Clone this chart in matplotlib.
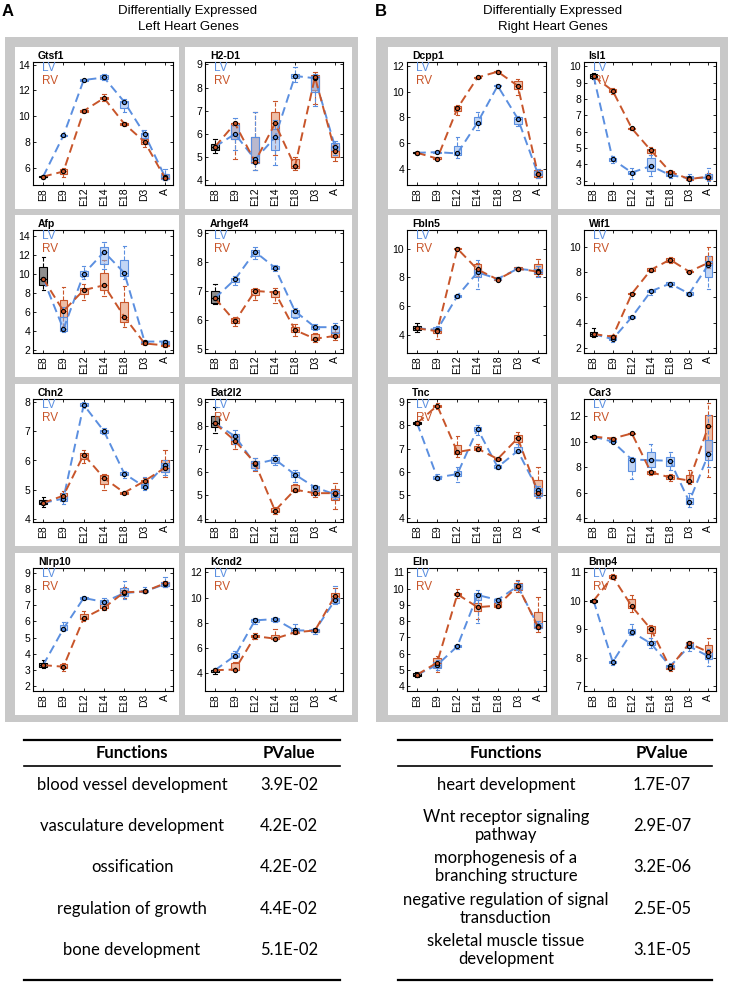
import matplotlib
matplotlib.use('Agg')
import matplotlib.pyplot as plt
from matplotlib.colors import to_rgba
import numpy as np

plt.rcParams['font.family'] = ['Liberation Sans', 'DejaVu Sans']

stages = ['E8', 'E9', 'E12', 'E14', 'E18', 'D3', 'A']

# rows: median, q1, q3, whisker low, whisker high  (E8 is shared by LV and RV)
gtsf1_lv = [[5.3, 8.5, 12.8, 13.0, 11.1, 8.6, 5.3],
            [5.25, 8.45, 12.75, 12.85, 10.6, 8.3, 5.1],
            [5.35, 8.55, 12.85, 13.2, 11.2, 8.7, 5.5],
            [5.2, 8.4, 12.7, 12.8, 10.3, 8.0, 5.0],
            [5.4, 8.6, 12.9, 13.3, 11.3, 8.9, 5.9]]
gtsf1_rv = [[5.3, 5.7, 10.4, 11.4, 9.4, 8.0, 5.2],
            [5.25, 5.5, 10.35, 11.3, 9.3, 7.8, 5.1],
            [5.35, 5.9, 10.5, 11.5, 9.5, 8.2, 5.4],
            [5.2, 5.3, 10.3, 11.2, 9.2, 7.6, 5.0],
            [5.4, 6.0, 10.55, 11.7, 9.55, 8.3, 5.5]]

h2d1_lv = [[5.45, 6.0, 4.9, 5.85, 8.5, 8.4, 5.45],
           [5.3, 5.8, 4.75, 5.3, 8.4, 7.8, 5.3],
           [5.55, 6.4, 5.85, 6.2, 8.6, 8.5, 5.6],
           [5.2, 5.3, 4.45, 4.65, 8.25, 7.2, 5.1],
           [5.8, 6.7, 6.95, 6.6, 8.9, 8.6, 5.7]]
h2d1_rv = [[5.45, 6.45, 4.8, 6.45, 4.6, 8.45, 5.25],
           [5.3, 5.8, 4.75, 5.8, 4.55, 7.9, 5.0],
           [5.55, 6.45, 5.85, 6.95, 4.9, 8.55, 5.5],
           [5.2, 4.9, 4.45, 5.1, 4.45, 7.3, 4.85],
           [5.8, 6.5, 6.95, 7.4, 5.0, 8.65, 5.55]]

afp_lv = [[9.5, 4.2, 10.0, 12.3, 10.1, 2.9, 2.9],
          [8.8, 4.0, 9.8, 11.0, 9.8, 2.7, 2.6],
          [10.7, 5.5, 10.3, 12.8, 11.5, 3.0, 3.0],
          [8.3, 3.9, 9.5, 10.5, 9.5, 2.6, 2.5],
          [11.8, 6.5, 10.8, 13.3, 12.9, 3.1, 3.1]]
afp_rv = [[9.5, 6.1, 8.3, 8.8, 5.5, 2.7, 2.5],
          [8.8, 5.5, 7.9, 8.3, 5.0, 2.6, 2.4],
          [10.7, 7.3, 8.5, 10.1, 7.1, 2.9, 2.7],
          [8.3, 4.5, 7.3, 7.7, 4.4, 2.5, 2.3],
          [11.8, 8.6, 8.9, 11.5, 8.7, 3.0, 2.8]]

arhgef4_lv = [[6.75, 7.4, 8.35, 7.8, 6.3, 5.75, 5.75],
              [6.6, 7.3, 8.2, 7.75, 6.1, 5.7, 5.55],
              [7.0, 7.45, 8.4, 7.85, 6.35, 5.8, 5.8],
              [6.55, 7.2, 8.1, 7.7, 6.05, 5.65, 5.4],
              [7.25, 7.5, 8.5, 7.9, 6.4, 5.85, 5.9]]
arhgef4_rv = [[6.75, 5.95, 7.0, 6.95, 5.65, 5.35, 5.45],
              [6.6, 5.9, 6.85, 6.8, 5.6, 5.3, 5.4],
              [7.0, 6.05, 7.05, 7.0, 5.75, 5.5, 5.6],
              [6.55, 5.8, 6.7, 6.6, 5.45, 5.25, 5.3],
              [7.25, 6.1, 7.1, 7.1, 5.85, 5.55, 5.7]]

chn2_lv = [[4.55, 4.7, 7.9, 7.0, 5.55, 5.1, 5.85],
           [4.5, 4.6, 7.85, 6.95, 5.5, 5.05, 5.6],
           [4.65, 4.8, 7.95, 7.05, 5.6, 5.2, 5.9],
           [4.4, 4.5, 7.8, 6.9, 5.4, 5.0, 5.5],
           [4.75, 4.9, 8.0, 7.1, 5.65, 5.45, 6.0]]
chn2_rv = [[4.55, 4.8, 6.2, 5.4, 4.9, 5.3, 5.75],
           [4.5, 4.7, 6.05, 5.2, 4.87, 5.2, 5.6],
           [4.65, 4.9, 6.25, 5.5, 4.93, 5.35, 6.0],
           [4.4, 4.6, 5.9, 5.0, 4.85, 5.15, 5.45],
           [4.75, 4.95, 6.35, 5.55, 4.95, 5.4, 6.35]]

bat2l2_lv = [[8.1, 7.55, 6.35, 6.55, 5.9, 5.35, 5.05],
             [7.95, 7.4, 6.2, 6.4, 5.8, 5.2, 4.95],
             [8.4, 7.65, 6.5, 6.65, 6.0, 5.4, 5.2],
             [7.7, 7.2, 6.1, 6.3, 5.6, 5.0, 4.85],
             [8.8, 7.8, 6.6, 6.75, 6.1, 5.45, 5.25]]
bat2l2_rv = [[8.1, 7.35, 6.4, 4.35, 5.25, 5.1, 5.1],
             [7.95, 7.2, 6.2, 4.3, 5.2, 5.0, 4.8],
             [8.4, 7.5, 6.5, 4.45, 5.45, 5.25, 5.3],
             [7.7, 7.0, 6.05, 4.2, 5.15, 4.95, 4.4],
             [8.8, 7.65, 6.6, 4.5, 5.5, 5.3, 5.55]]

nlrp10_lv = [[3.3, 5.55, 7.45, 7.2, 7.75, 7.85, 8.3],
             [3.2, 5.5, 7.4, 7.05, 7.6, 7.8, 8.2],
             [3.45, 5.75, 7.5, 7.3, 8.05, 7.95, 8.45],
             [3.15, 5.4, 7.35, 6.95, 7.4, 7.75, 8.1],
             [3.6, 5.95, 7.55, 7.45, 8.5, 8.1, 8.75]]
nlrp10_rv = [[3.3, 3.2, 6.2, 6.85, 7.8, 7.85, 8.35],
             [3.2, 3.1, 6.15, 6.8, 7.6, 7.8, 8.2],
             [3.45, 3.35, 6.45, 7.05, 7.95, 7.9, 8.45],
             [3.15, 2.95, 6.05, 6.7, 7.45, 7.75, 8.1],
             [3.6, 3.4, 6.65, 7.15, 8.1, 7.95, 8.5]]

kcnd2_lv = [[4.25, 5.4, 8.2, 8.3, 7.4, 7.4, 9.8],
            [4.1, 5.3, 8.05, 8.15, 7.3, 7.3, 9.6],
            [4.3, 5.6, 8.3, 8.4, 7.6, 7.5, 10.0],
            [3.95, 5.2, 7.9, 8.1, 7.2, 7.1, 9.5],
            [4.35, 5.8, 8.35, 8.5, 7.9, 7.6, 10.95]]
kcnd2_rv = [[4.25, 4.3, 6.95, 6.75, 7.25, 7.4, 10.15],
            [4.1, 4.3, 6.85, 6.7, 7.2, 7.3, 9.9],
            [4.3, 4.8, 7.05, 7.05, 7.3, 7.45, 10.4],
            [3.95, 4.25, 6.75, 6.65, 7.15, 7.25, 9.6],
            [4.35, 4.9, 7.2, 7.5, 7.35, 7.5, 10.8]]

dcpp1_lv = [[5.25, 5.3, 5.2, 7.6, 10.45, 7.9, 3.6],
            [5.2, 5.25, 5.1, 7.5, 10.4, 7.5, 3.5],
            [5.3, 5.35, 5.8, 8.0, 10.5, 8.0, 3.8],
            [5.15, 5.2, 4.85, 7.0, 10.3, 7.3, 3.3],
            [5.35, 5.4, 6.5, 8.4, 10.6, 8.1, 4.0]]
dcpp1_rv = [[5.25, 4.8, 8.7, 11.1, 11.55, 10.45, 3.6],
            [5.2, 4.75, 8.5, 11.05, 11.5, 10.2, 3.4],
            [5.3, 4.9, 8.9, 11.15, 11.6, 10.8, 3.9],
            [5.15, 4.7, 8.2, 11.0, 11.45, 9.7, 3.3],
            [5.35, 4.95, 9.0, 11.2, 11.65, 11.0, 4.0]]

isl1_lv = [[9.4, 4.3, 3.5, 3.9, 3.35, 3.15, 3.2],
           [9.3, 4.2, 3.4, 3.6, 3.3, 3.1, 3.1],
           [9.5, 4.4, 3.6, 4.4, 3.5, 3.3, 3.4],
           [9.2, 4.1, 3.1, 3.3, 3.15, 3.0, 3.0],
           [9.6, 4.5, 3.8, 4.6, 3.6, 3.4, 3.8]]
isl1_rv = [[9.4, 8.5, 6.2, 4.85, 3.55, 3.1, 3.25],
           [9.3, 8.4, 6.15, 4.7, 3.5, 3.05, 3.15],
           [9.5, 8.6, 6.25, 4.95, 3.6, 3.2, 3.4],
           [9.2, 8.3, 6.1, 4.6, 3.45, 3.0, 3.05],
           [9.6, 8.7, 6.3, 5.05, 3.65, 3.25, 3.5]]

fbln5_lv = [[4.45, 4.35, 6.7, 8.35, 7.9, 8.6, 8.45],
            [4.35, 4.3, 6.6, 8.0, 7.85, 8.55, 8.3],
            [4.6, 4.55, 6.8, 8.6, 7.95, 8.65, 8.6],
            [4.2, 4.15, 6.55, 7.2, 7.8, 8.5, 8.0],
            [4.8, 4.6, 6.85, 9.2, 8.0, 8.7, 8.8]]
fbln5_rv = [[4.45, 4.25, 10.0, 8.55, 7.85, 8.6, 8.4],
            [4.35, 4.1, 9.95, 8.3, 7.8, 8.55, 8.2],
            [4.6, 4.4, 10.05, 8.9, 7.9, 8.7, 8.9],
            [4.2, 3.7, 9.9, 8.1, 7.75, 8.5, 8.1],
            [4.8, 4.5, 10.1, 9.0, 7.95, 8.75, 9.3]]

wif1_lv = [[3.1, 2.7, 4.45, 6.5, 7.1, 6.3, 8.6],
           [2.95, 2.6, 4.4, 6.4, 7.0, 6.2, 7.6],
           [3.3, 2.85, 4.5, 6.6, 7.2, 6.4, 8.9],
           [2.9, 2.5, 4.35, 6.2, 6.8, 6.15, 6.7],
           [3.6, 2.95, 4.55, 6.7, 7.25, 6.45, 9.3]]
wif1_rv = [[3.1, 2.9, 6.3, 8.2, 9.0, 8.05, 8.75],
           [2.95, 2.8, 6.25, 8.1, 8.8, 8.0, 8.6],
           [3.3, 3.0, 6.35, 8.3, 9.1, 8.1, 9.3],
           [2.9, 2.7, 6.2, 8.0, 8.7, 7.95, 8.3],
           [3.6, 3.05, 6.4, 8.35, 9.2, 8.15, 10.0]]

tnc_lv = [[8.1, 5.75, 5.9, 7.85, 6.2, 6.9, 5.2],
          [8.05, 5.7, 5.8, 7.75, 6.15, 6.85, 4.95],
          [8.15, 5.8, 6.05, 7.95, 6.3, 7.05, 5.3],
          [8.0, 5.65, 5.55, 7.6, 6.1, 6.8, 4.85],
          [8.2, 5.9, 6.2, 8.0, 6.35, 7.2, 5.4]]
tnc_rv = [[8.1, 8.85, 6.85, 7.0, 6.55, 7.45, 5.1],
          [8.05, 8.8, 6.75, 6.95, 6.5, 7.3, 5.0],
          [8.15, 8.9, 7.15, 7.1, 6.6, 7.6, 5.65],
          [8.0, 8.7, 6.65, 6.9, 6.45, 7.2, 4.9],
          [8.2, 8.95, 7.55, 7.2, 6.65, 7.7, 6.2]]

car3_lv = [[10.4, 10.0, 8.6, 8.55, 8.5, 5.3, 9.0],
           [10.35, 9.95, 7.7, 8.0, 8.1, 5.1, 8.6],
           [10.45, 10.1, 8.7, 9.2, 8.8, 5.6, 10.1],
           [10.3, 9.9, 7.1, 7.6, 7.8, 4.9, 8.0],
           [10.5, 10.15, 8.8, 9.8, 9.2, 6.0, 12.1]]
car3_rv = [[10.4, 10.25, 10.65, 7.6, 7.2, 6.95, 11.2],
           [10.35, 10.2, 10.6, 7.5, 7.1, 6.8, 9.3],
           [10.45, 10.3, 10.7, 7.7, 7.4, 7.4, 12.1],
           [10.3, 10.15, 10.55, 7.4, 6.9, 6.7, 7.2],
           [10.5, 10.35, 10.75, 7.8, 7.5, 7.8, 13.0]]

eln_lv = [[4.7, 5.3, 6.45, 9.6, 9.3, 10.15, 7.7],
          [4.65, 5.1, 6.4, 9.3, 9.2, 10.0, 7.6],
          [4.8, 5.5, 6.55, 9.75, 9.35, 10.3, 7.9],
          [4.55, 5.0, 6.3, 7.9, 9.1, 9.9, 7.5],
          [4.85, 5.6, 6.6, 9.9, 9.4, 10.45, 8.0]]
eln_rv = [[4.7, 5.45, 9.65, 8.85, 8.95, 10.15, 7.65],
          [4.65, 5.2, 9.6, 8.6, 8.85, 9.9, 7.55],
          [4.8, 5.7, 9.75, 9.1, 9.1, 10.35, 8.55],
          [4.55, 4.85, 9.4, 8.1, 8.8, 9.8, 7.35],
          [4.85, 5.85, 10.0, 9.5, 9.15, 10.5, 9.45]]

bmp4_lv = [[10.0, 7.85, 8.9, 8.5, 7.7, 8.4, 8.05],
           [9.97, 7.8, 8.85, 8.45, 7.65, 8.35, 7.95],
           [10.03, 7.9, 9.0, 8.6, 7.75, 8.5, 8.2],
           [9.95, 7.75, 8.8, 8.35, 7.6, 8.25, 7.7],
           [10.05, 7.95, 9.2, 8.7, 7.8, 8.55, 8.3]]
bmp4_rv = [[10.0, 10.85, 9.8, 9.0, 7.65, 8.5, 8.2],
           [9.97, 10.8, 9.75, 8.85, 7.6, 8.45, 8.1],
           [10.03, 10.9, 10.05, 9.1, 7.7, 8.55, 8.45],
           [9.95, 10.75, 9.6, 8.7, 7.55, 8.4, 7.95],
           [10.05, 10.95, 10.2, 9.15, 7.75, 8.6, 8.7]]

# gene name, LV, RV, y range, y tick step
left_genes = [('Gtsf1', gtsf1_lv, gtsf1_rv, (4.65, 14.2), 2),
              ('H2-D1', h2d1_lv, h2d1_rv, (3.8, 9.1), 1),
              ('Afp', afp_lv, afp_rv, (1.7, 14.6), 2),
              ('Arhgef4', arhgef4_lv, arhgef4_rv, (4.86, 9.1), 1),
              ('Chn2', chn2_lv, chn2_rv, (3.9, 8.1), 1),
              ('Bat2l2', bat2l2_lv, bat2l2_rv, (3.86, 9.15), 1),
              ('Nlrp10', nlrp10_lv, nlrp10_rv, (1.7, 9.3), 1),
              ('Kcnd2', kcnd2_lv, kcnd2_rv, (2.6, 12.35), 2)]
right_genes = [('Dcpp1', dcpp1_lv, dcpp1_rv, (2.75, 12.3), 2),
               ('Isl1', isl1_lv, isl1_rv, (2.74, 10.26), 1),
               ('Fbln5', fbln5_lv, fbln5_rv, (2.73, 11.3), 2),
               ('Wif1', wif1_lv, wif1_rv, (1.6, 11.35), 2),
               ('Tnc', tnc_lv, tnc_rv, (3.83, 9.14), 1),
               ('Car3', car3_lv, car3_rv, (3.7, 13.35), 2),
               ('Eln', eln_lv, eln_rv, (3.7, 11.26), 1),
               ('Bmp4', bmp4_lv, bmp4_rv, (6.83, 11.15), 1)]

left_functions = ['blood vessel development', 'vasculature development', 'ossification',
                  'regulation of growth', 'bone development']
left_pvalues = ['3.9E-02', '4.2E-02', '4.2E-02', '4.4E-02', '5.1E-02']
right_functions = ['heart development', 'Wnt receptor signaling\npathway',
                   'morphogenesis of a\nbranching structure',
                   'negative regulation of signal\ntransduction',
                   'skeletal muscle tissue\ndevelopment']
right_pvalues = ['1.7E-07', '2.9E-07', '3.2E-06', '2.5E-05', '3.1E-05']

LV_C = '#5b8fe0'
RV_C = '#c8552a'
LV_FILL = to_rgba('#8fb4ee', 0.55)
RV_FILL = to_rgba('#e08a60', 0.55)
GREY = '#c8c8c8'

W, H = 730, 988
fig = plt.figure(figsize=(W / 100, H / 100), dpi=100)
bg = fig.add_axes([0, 0, 1, 1])
bg.set_xlim(0, W)
bg.set_ylim(H, 0)
bg.axis('off')


def add_px_axes(x0, y0, x1, y1):
    return fig.add_axes([x0 / W, 1 - y1 / H, (x1 - x0) / W, (y1 - y0) / H])


def box_stats(s, i):
    return dict(med=s[0][i], q1=s[1][i], q3=s[2][i], whislo=s[3][i], whishi=s[4][i], fliers=[])


def draw_gene(ax, name, lv, rv, ylim, step):
    x = np.arange(1, 8)
    for s, c, fc in [(rv, RV_C, RV_FILL), (lv, LV_C, LV_FILL)]:
        ax.bxp([box_stats(s, i) for i in range(1, 7)], positions=x[1:], widths=0.38,
               patch_artist=True, showfliers=False, manage_ticks=False, capwidths=0.16,
               boxprops=dict(facecolor=fc, edgecolor=c, lw=0.8),
               whiskerprops=dict(color=c, ls='--', lw=0.8),
               capprops=dict(color=c, lw=0.8),
               medianprops=dict(color=c, lw=0.8))
    ax.bxp([box_stats(lv, 0)], positions=[1], widths=0.38, patch_artist=True,
           showfliers=False, manage_ticks=False, capwidths=0.16,
           boxprops=dict(facecolor=to_rgba('#606060', 0.7), edgecolor='k', lw=0.8),
           whiskerprops=dict(color='k', ls='--', lw=0.8),
           capprops=dict(color='k', lw=0.8), medianprops=dict(color='k', lw=0.8))
    for s, c in [(lv, LV_C), (rv, RV_C)]:
        ax.plot(x, s[0], ls=(0, (4.5, 2.5)), color=c, lw=1.4, zorder=4)
    for s, c in [(lv, LV_C), (rv, RV_C)]:
        ax.plot(x, s[0], 'o', ms=3, mfc=c, mec='k', mew=0.8, zorder=5)
    ax.set_xlim(0.5, 7.4)
    ax.set_ylim(*ylim)
    lo = np.ceil(ylim[0] / step) * step
    ax.set_yticks(np.arange(lo, ylim[1], step))
    ax.set_xticks(x)
    ax.set_xticklabels(stages, rotation=90)
    ax.tick_params(direction='in', top=True, right=True, length=2.5, width=0.6,
                   labelsize=7.5, pad=2)
    for sp in ax.spines.values():
        sp.set_linewidth(0.8)
    ax.text(0.065, 0.955, 'LV', transform=ax.transAxes, color=LV_C, fontsize=8.5, va='center')
    ax.text(0.065, 0.845, 'RV', transform=ax.transAxes, color=RV_C, fontsize=8.5, va='center')
    ax.text(0.035, 1.01, name, transform=ax.transAxes, fontsize=7.5, fontweight='bold', va='bottom')


row_tops = [47, 215, 384, 553]
panels = [
    (left_genes, (5, 358), [(15, 179, 33, 173), (185, 352, 205, 343)], 188, 'A', 2,
     'Left Heart Genes'),
    (right_genes, (376, 728), [(388, 551, 407, 546), (558, 720, 584, 716)], 553, 'B', 375,
     'Right Heart Genes'),
]

for genes, (gx0, gx1), cols, tx, letter, lx, subtitle in panels:
    bg.add_patch(plt.Rectangle((gx0, 37), gx1 - gx0, 722 - 37, color=GREY, lw=0))
    bg.text(lx, 11, letter, fontsize=12, fontweight='bold', va='center', ha='left')
    bg.text(tx, 11, 'Differentially Expressed', fontsize=9.5, ha='center', va='center')
    bg.text(tx, 27, subtitle, fontsize=9.5, ha='center', va='center')
    for k, (name, lv, rv, ylim, step) in enumerate(genes):
        r, c = divmod(k, 2)
        wx0, wx1, ax0, ax1 = cols[c]
        top = row_tops[r]
        bg.add_patch(plt.Rectangle((wx0, top), wx1 - wx0, 162, color='white', lw=0))
        ax = add_px_axes(ax0, top + 15, ax1, top + 138)
        draw_gene(ax, name, lv, rv, ylim, step)

# enrichment tables
row_y = [785, 826, 867, 909, 950]
tables = [(24, 340, 132, 289, left_functions, left_pvalues),
          (398, 712, 506, 662, right_functions, right_pvalues)]
tfont = ['Lato', 'DejaVu Sans']
for x0, x1, fx, px, funcs, pvals in tables:
    bg.plot([x0, x1], [740, 740], color='k', lw=1.6)
    bg.plot([x0, x1], [766, 766], color='k', lw=1.2)
    bg.plot([x0, x1], [980, 980], color='k', lw=1.6)
    bg.text(fx, 753, 'Functions', family=tfont, fontsize=12, fontweight='bold', ha='center', va='center')
    bg.text(px, 753, 'PValue', family=tfont, fontsize=12, fontweight='bold', ha='center', va='center')
    for y, f, p in zip(row_y, funcs, pvals):
        bg.text(fx, y, f, family=tfont, fontsize=12, ha='center', va='center', linespacing=1.1)
        bg.text(px, y, p, family=tfont, fontsize=12, ha='center', va='center')

fig.savefig('out.png', dpi=100)
